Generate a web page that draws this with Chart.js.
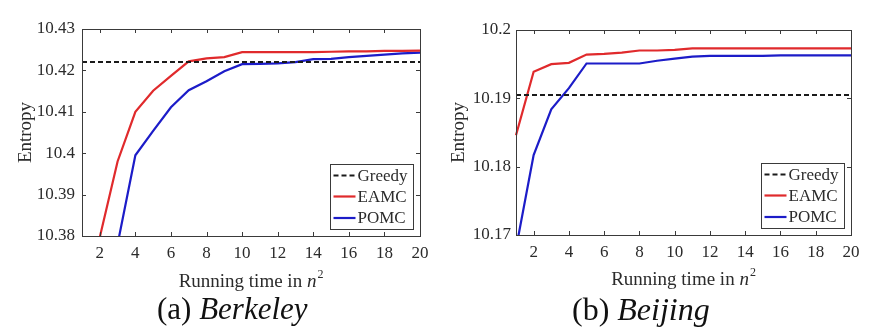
<!DOCTYPE html>
<html>
<head>
<meta charset="utf-8">
<script src="https://cdn.jsdelivr.net/npm/chart.js@4.4.1/dist/chart.umd.min.js"></script>
<style>
	body { margin: 0; background: #fff; }
	#wrap { position: relative; width: 877px; height: 331px; overflow: hidden; }
	canvas { position: absolute; top: 0; }
	.cap { position: absolute; font-family: 'Times New Roman', 'Liberation Serif', serif; color: #111; white-space: nowrap; line-height: 1; }
	.cap i { font-style: italic; }
</style>
</head>
<body>
<div id="wrap">
	<canvas id="chartA" width="440" height="300" style="left:0"></canvas>
	<canvas id="chartB" width="437" height="300" style="left:440px"></canvas>
	<div class="cap" id="capA" style="left:157px; top:293px; font-size:31px;">(a) <i>Berkeley</i></div>
	<div class="cap" id="capB" style="left:572px; top:293px; font-size:32px;">(b) <i>Beijing</i></div>
</div>
<script>
var runningTime = [1, 2, 3, 4, 5, 6, 7, 8, 9, 10, 11, 12, 13, 14, 15, 16, 17, 18, 19, 20];
var xTickValues = [2, 4, 6, 8, 10, 12, 14, 16, 18, 20];

// (a) Berkeley
var greedyBerkeley = 10.422;
var eamcBerkeley = [null, 10.3797, 10.398, 10.41, 10.4151, 10.4187, 10.4222, 10.4229, 10.4232, 10.4244,
	10.4244, 10.4244, 10.4244, 10.4244, 10.4245, 10.4246, 10.4246, 10.4247, 10.4247, 10.4248];
var pomcBerkeley = [null, null, 10.378, 10.3995, 10.4054, 10.4111, 10.4152, 10.4174, 10.4198, 10.4215,
	10.4216, 10.4217, 10.422, 10.4227, 10.4228, 10.4232, 10.4235, 10.4238, 10.4241, 10.4243];
var yTicksBerkeley = [10.38, 10.39, 10.40, 10.41, 10.42, 10.43];

// (b) Beijing
var greedyBeijing = 10.1905;
var eamcBeijing = [10.1846, 10.1939, 10.195, 10.1952, 10.1964, 10.1965, 10.1967, 10.197, 10.197, 10.1971,
	10.1973, 10.1973, 10.1973, 10.1973, 10.1973, 10.1973, 10.1973, 10.1973, 10.1973, 10.1973];
var pomcBeijing = [10.168, 10.1817, 10.1884, 10.1915, 10.1951, 10.1951, 10.1951, 10.1951, 10.1955, 10.1958,
	10.1961, 10.1962, 10.1962, 10.1962, 10.1962, 10.1963, 10.1963, 10.1963, 10.1963, 10.1963];
var yTicksBeijing = [10.17, 10.18, 10.19, 10.20];

var seriesNames = ["Greedy", "EAMC", "POMC"];
var FONT = "'Times New Roman', 'Liberation Serif', serif";
var TEXT = "#2b2b2b";

function toPoints(values) {
	return runningTime.map(function(x, i) { return {x: x, y: values[i]}; });
}

// MATLAB-like box with inward ticks on all four sides
var boxPlugin = {
	id: "box",
	afterDatasetsDraw: function(chart) {
		var ctx = chart.ctx, a = chart.chartArea;
		var xs = chart.scales.x, ys = chart.scales.y, len = 4;
		ctx.save();
		ctx.strokeStyle = "#3a3a3a";
		ctx.lineWidth = 1;
		ctx.beginPath();
		xs.ticks.forEach(function(t) {
			var px = Math.round(xs.getPixelForValue(t.value)) + 0.5;
			ctx.moveTo(px, a.bottom); ctx.lineTo(px, a.bottom - len);
			ctx.moveTo(px, a.top); ctx.lineTo(px, a.top + len);
		});
		ys.ticks.forEach(function(t) {
			var py = Math.round(ys.getPixelForValue(t.value)) + 0.5;
			ctx.moveTo(a.left, py); ctx.lineTo(a.left + len, py);
			ctx.moveTo(a.right, py); ctx.lineTo(a.right - len, py);
		});
		ctx.stroke();
		ctx.strokeRect(Math.round(a.left) + 0.5, Math.round(a.top) + 0.5,
			Math.round(a.right - a.left), Math.round(a.bottom - a.top));
		ctx.restore();
	}
};

// legend box in the lower right corner of the plot
var legendPlugin = {
	id: "boxLegend",
	afterDraw: function(chart) {
		var ctx = chart.ctx, a = chart.chartArea;
		var w = 83, h = 65;
		var left = Math.round(a.right - 7 - w) + 0.5, top = Math.round(a.bottom - 7.5 - h) + 0.5;
		var rows = [11, 32, 53.5];
		ctx.save();
		ctx.fillStyle = "#fff";
		ctx.fillRect(left, top, w, h);
		ctx.strokeStyle = "#3a3a3a";
		ctx.lineWidth = 1;
		ctx.strokeRect(left, top, w, h);
		chart.data.datasets.forEach(function(ds, i) {
			var y = top + rows[i];
			ctx.strokeStyle = ds.borderColor;
			ctx.lineWidth = ds.borderWidth;
			ctx.setLineDash(ds.borderDash || []);
			ctx.beginPath();
			ctx.moveTo(left + 3, y);
			ctx.lineTo(left + 25, y);
			ctx.stroke();
			ctx.setLineDash([]);
			ctx.fillStyle = TEXT;
			ctx.font = "17px " + FONT;
			ctx.textBaseline = "middle";
			ctx.fillText(ds.label, left + 27, y + 1);
		});
		ctx.restore();
	}
};

// x axis title with italic n and superscript 2
var xTitlePlugin = {
	id: "xTitle",
	afterDraw: function(chart) {
		var ctx = chart.ctx, a = chart.chartArea;
		var base = a.bottom + chart.options.plugins.xTitle.offset;
		var part1 = "Running time in ", part2 = "n", part3 = "2";
		ctx.save();
		ctx.fillStyle = TEXT;
		ctx.textBaseline = "alphabetic";
		ctx.font = "19px " + FONT;
		var w1 = ctx.measureText(part1).width;
		ctx.font = "italic 19px " + FONT;
		var w2 = ctx.measureText(part2).width;
		ctx.font = "12px " + FONT;
		var w3 = ctx.measureText(part3).width;
		var x = (a.left + a.right) / 2 - (w1 + w2 + w3 + 1) / 2;
		ctx.font = "19px " + FONT;
		ctx.fillText(part1, x, base);
		ctx.font = "italic 19px " + FONT;
		ctx.fillText(part2, x + w1, base);
		ctx.font = "12px " + FONT;
		ctx.fillText(part3, x + w1 + w2 + 1, base - 9);
		ctx.restore();
	}
};

function do_create_entropy_chart(canvasId, cfg) {
	var datasets = [
		{label: seriesNames[0], data: [{x: 1, y: cfg.greedy}, {x: 20, y: cfg.greedy}], borderColor: "#1a1a1a", borderWidth: 2, borderDash: [5, 3]},
		{label: seriesNames[1], data: toPoints(cfg.eamc), borderColor: "#e02a2c", borderWidth: 2.2},
		{label: seriesNames[2], data: toPoints(cfg.pomc), borderColor: "#1c1cc8", borderWidth: 2.2}
	];
	datasets.forEach(function(d) {
		d.pointRadius = 0;
		d.tension = 0;
		d.fill = false;
		d.clip = 1;
		d.spanGaps = false;
	});

	return new Chart(document.getElementById(canvasId).getContext("2d"), {
		type: "line",
		data: {datasets: datasets},
		plugins: [boxPlugin, legendPlugin, xTitlePlugin],
		options: {
			responsive: false,
			animation: false,
			devicePixelRatio: 1,
			layout: {padding: cfg.padding},
			plugins: {
				legend: {display: false},
				tooltip: {enabled: false},
				xTitle: {offset: cfg.titleOffset}
			},
			scales: {
				x: {
					type: "linear",
					min: 1,
					max: 20,
					afterBuildTicks: function(s) { s.ticks = xTickValues.map(function(v) { return {value: v}; }); },
					afterFit: function(s) { s.height = cfg.xHeight; },
					grid: {display: false, drawTicks: false},
					border: {display: false},
					ticks: {color: TEXT, font: {family: FONT, size: 17}, padding: 7, maxRotation: 0, autoSkip: false}
				},
				y: {
					type: "linear",
					min: cfg.yTicks[0],
					max: cfg.yTicks[cfg.yTicks.length - 1],
					afterBuildTicks: function(s) { s.ticks = cfg.yTicks.map(function(v) { return {value: v}; }); },
					afterFit: function(s) { s.width = cfg.yWidth; },
					grid: {display: false, drawTicks: false},
					border: {display: false},
					ticks: {
						color: TEXT, font: {family: FONT, size: 17}, padding: cfg.yPad, autoSkip: false,
						callback: function(v) { return String(parseFloat(v.toFixed(3))); }
					},
					title: {display: true, text: "Entropy", color: TEXT, font: {family: FONT, size: 19}, padding: {top: cfg.yTitlePad, bottom: 0}}
				}
			}
		}
	});
}

do_create_entropy_chart("chartA", {
	greedy: greedyBerkeley, eamc: eamcBerkeley, pomc: pomcBerkeley, yTicks: yTicksBerkeley,
	padding: {top: 29, right: 20, left: 0, bottom: 0},
	yWidth: 82, xHeight: 64, yPad: 7, yTitlePad: 15, titleOffset: 51
});

do_create_entropy_chart("chartB", {
	greedy: greedyBeijing, eamc: eamcBeijing, pomc: pomcBeijing, yTicks: yTicksBeijing,
	padding: {top: 30, right: 26, left: 0, bottom: 0},
	yWidth: 76, xHeight: 65, yPad: 5, yTitlePad: 8, titleOffset: 50
});
</script>
</body>
</html>
